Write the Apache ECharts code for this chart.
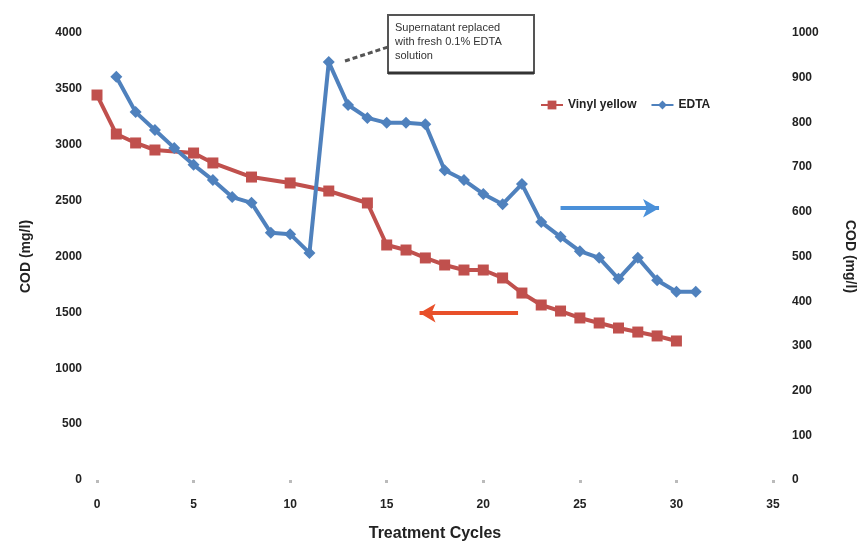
<!DOCTYPE html>
<html><head><meta charset="utf-8">
<script src="https://cdn.jsdelivr.net/npm/echarts@6/dist/echarts.min.js"></script>
<style>html,body{margin:0;padding:0;background:#fff}#c{width:864px;height:544px}</style>
</head><body><div id="c"></div>
<script>
var vinylX = [0,1,2,3,5,6,8,10,12,14,15,16,17,18,19,20,21,22,23,24,25,26,27,28,29,30];
var vinylY = [3445,3096,3016,2953,2926,2837,2711,2658,2586,2479,2103,2058,1987,1924,1879,1879,1808,1673,1566,1512,1450,1405,1360,1324,1289,1244];
var edtaX = [1,2,3,4,5,6,7,8,9,10,11,12,13,14,15,16,17,18,19,20,21,22,23,24,25,26,27,28,29,30,31];
var edtaY = [902,823,783,743,705,671,633,620,553,550,508,935,839,810,799,799,796,693,671,640,617,662,577,544,512,497,450,497,447,421,421];
var xTicks = [0,5,10,15,20,25,30,35];
var leftTicks = [0,500,1000,1500,2000,2500,3000,3500,4000];
var rightTicks = [0,100,200,300,400,500,600,700,800,900,1000];
var names = ['Vinyl yellow','EDTA'];
var noteLines = ['Supernatant replaced','with fresh 0.1% EDTA','solution'];

var RED = '#c0504d', BLUE = '#4f81bd';
var font = 'Liberation Sans, Arial, sans-serif';
var chart = echarts.init(document.getElementById('c'));
function zip(a,b){return a.map(function(v,i){return [v,b[i]];});}
function plain(v){return String(v);}
chart.setOption({
  animation:false,
  backgroundColor:'#fff',
  textStyle:{fontFamily:font},
  grid:{left:97,right:91,top:33,bottom:64,containLabel:false,outerBoundsMode:'none'},
  legend:{
    left:535, top:94, itemWidth:22, itemHeight:11, itemGap:14,
    textStyle:{fontFamily:font,fontSize:12,fontWeight:'bold',color:'#222'},
    data:names
  },
  xAxis:{
    type:'value', min:xTicks[0], max:xTicks[xTicks.length-1], interval:5,
    name:'Treatment Cycles', nameLocation:'middle', nameGap:46,
    nameTextStyle:{fontFamily:font,fontSize:16,fontWeight:'bold',color:'#222'},
    axisLine:{show:false},
    axisTick:{show:true,length:3,lineStyle:{color:'#bbb',width:3}},
    axisLabel:{margin:19,fontSize:12,fontWeight:'bold',color:'#222',formatter:plain},
    splitLine:{show:false}
  },
  yAxis:[{
    type:'value', min:leftTicks[0], max:leftTicks[leftTicks.length-1], interval:500,
    name:'COD (mg/l)', nameLocation:'middle', nameGap:64, nameRotate:90,
    nameTextStyle:{fontFamily:font,fontSize:14,fontWeight:'bold',color:'#222'},
    axisLine:{show:false}, axisTick:{show:false},
    axisLabel:{margin:15,fontSize:12,fontWeight:'bold',color:'#222',formatter:plain},
    splitLine:{show:false}
  },{
    type:'value', min:rightTicks[0], max:rightTicks[rightTicks.length-1], interval:100,
    name:'COD (mg/l)', nameLocation:'middle', nameGap:70, nameRotate:-90,
    nameTextStyle:{fontFamily:font,fontSize:14,fontWeight:'bold',color:'#222'},
    axisLine:{show:false}, axisTick:{show:false},
    axisLabel:{margin:19,fontSize:12,fontWeight:'bold',color:'#222',formatter:plain},
    splitLine:{show:false}
  }],
  series:[{
    name:names[0], type:'line', yAxisIndex:0, data:zip(vinylX,vinylY),
    symbol:'rect', symbolSize:11,
    lineStyle:{color:RED,width:4}, itemStyle:{color:RED},
    markLine:{
      silent:true, symbol:['none','arrow'], symbolSize:[14,16],
      label:{show:false},
      lineStyle:{color:'#e8502a',width:4,type:'solid'},
      data:[[{coord:[21.8,1494]},{coord:[16.7,1494]}]]
    }
  },{
    name:names[1], type:'line', yAxisIndex:1, data:zip(edtaX,edtaY),
    symbol:'diamond', symbolSize:12,
    lineStyle:{color:BLUE,width:4}, itemStyle:{color:BLUE},
    markLine:{
      silent:true, symbol:['none','arrow'], symbolSize:[14,16],
      label:{show:false},
      lineStyle:{color:'#4a90d9',width:4,type:'solid'},
      data:[[{coord:[24.0,608]},{coord:[29.1,608]}]]
    }
  }],
  graphic:[
    {type:'line', shape:{x1:345,y1:61,x2:388,y2:47}, style:{stroke:'#555',lineWidth:3,lineDash:[5,3]}},
    {type:'rect', shape:{x:388,y:15,width:146,height:58}, style:{fill:'#fff',stroke:'#555',lineWidth:2}},
    {type:'line', shape:{x1:388,y1:73,x2:534,y2:73}, style:{stroke:'#333',lineWidth:3}},
    {type:'text', left:395, top:21, style:{text:noteLines.join('\n'), fontFamily:font, fontSize:11, lineHeight:14, fill:'#333'}}
  ]
});
</script></body></html>
